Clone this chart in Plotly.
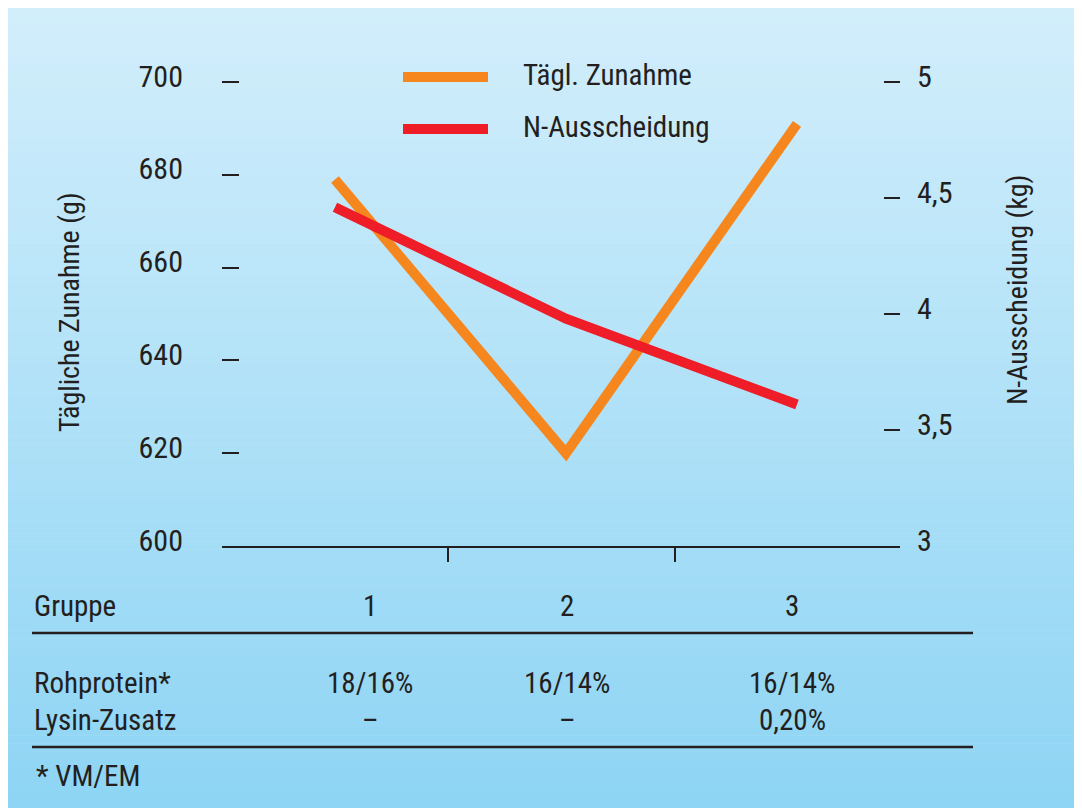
import plotly.graph_objects as go

# ---- data ----
gruppen = [1, 2, 3]
taegl_zunahme = [679, 620, 691]          # g, left axis
n_ausscheidung = [4.46, 3.98, 3.61]      # kg, right axis
left_ticks = [600, 620, 640, 660, 680, 700]
right_ticks = [3, 3.5, 4, 4.5, 5]
right_ticktext = ["3", "3,5", "4", "4,5", "5"]
group_dividers = [1.49, 2.47]
table_groups = ["1", "2", "3"]
rohprotein = ["18/16%", "16/14%", "16/14%"]
lysin = ["–", "–", "0,20%"]

W, H = 1082, 808
OFF = 8  # page body margin
FONT = "Liberation Sans Narrow, Roboto Condensed, DejaVu Sans Condensed, Arial Narrow, sans-serif"
TXT = "#231f20"
ORANGE = "#f6871f"
RED = "#ee1d27"
FS = 29


def px(x):
    return (x - OFF) / W


def py(y):
    return 1 - (y - OFF) / H


# plot area in page pixels
TOP, BOT, LEFT, RIGHT = 82, 546, 222, 900
PAD = 3
l_range = [600, 700]
r_range = [3, 5]
l_top = l_range[1] + PAD * (l_range[1] - l_range[0]) / (BOT - TOP)
r_top = r_range[1] + PAD * (r_range[1] - r_range[0]) / (BOT - TOP)

fig = go.Figure()
fig.add_trace(go.Scatter(x=gruppen, y=taegl_zunahme, mode="lines", name="Tägl. Zunahme",
                         line=dict(color=ORANGE, width=10), yaxis="y", showlegend=False))
fig.add_trace(go.Scatter(x=gruppen, y=n_ausscheidung, mode="lines", name="N-Ausscheidung",
                         line=dict(color=RED, width=10), yaxis="y2", showlegend=False))

shapes = []
# background gradient
top_c = (210, 238, 251)
bot_c = (141, 212, 244)
n = 100
for i in range(n):
    a = OFF + (H) * i / n
    b = OFF + (H) * (i + 1) / n + 0.5
    t = i / (n - 1)
    c = tuple(round(top_c[k] + (bot_c[k] - top_c[k]) * t) for k in range(3))
    shapes.append(dict(type="rect", xref="paper", yref="paper", x0=0, x1=1.0,
                       y0=py(b), y1=py(a), fillcolor="rgb(%d,%d,%d)" % c,
                       line=dict(width=0), layer="below"))

# legend (manual)
leg = [("Tägl. Zunahme", ORANGE, 77), ("N-Ausscheidung", RED, 129)]
annotations = []
for name, col, yy in leg:
    shapes.append(dict(type="line", xref="paper", yref="paper", x0=px(403), x1=px(488),
                       y0=py(yy), y1=py(yy), line=dict(color=col, width=10)))
    annotations.append(dict(text=name, x=px(521), y=py(yy - 2), xref="paper", yref="paper",
                            xanchor="left", yanchor="middle", showarrow=False,
                            font=dict(size=FS, color=TXT, family=FONT)))

# table lines
for yy in [633, 747]:
    shapes.append(dict(type="line", xref="paper", yref="paper", x0=px(32), x1=px(973),
                       y0=py(yy), y1=py(yy), line=dict(color=TXT, width=2.5)))

col_x = [370, 567, 792]


def label(text, x, y, anchor="center"):
    annotations.append(dict(text=text, x=px(x), y=py(y), xref="paper", yref="paper",
                            xanchor=anchor, yanchor="middle", showarrow=False,
                            font=dict(size=FS, color=TXT, family=FONT)))


label("Gruppe", 32, 606, "left")
label("Rohprotein*", 32, 683, "left")
label("Lysin-Zusatz", 32, 720, "left")
label("* VM/EM", 34, 776, "left")
for i in range(3):
    label(table_groups[i], col_x[i], 606)
    label(rohprotein[i], col_x[i], 683)
    label(lysin[i], col_x[i], 720)

# axis titles
annotations.append(dict(text="Tägliche Zunahme (g)", x=px(69), y=py(312), xref="paper", yref="paper",
                        textangle=-90, xanchor="center", yanchor="middle", showarrow=False,
                        font=dict(size=28, color=TXT, family=FONT)))
annotations.append(dict(text="N-Ausscheidung (kg)", x=px(1017), y=py(290), xref="paper", yref="paper",
                        textangle=-90, xanchor="center", yanchor="middle", showarrow=False,
                        font=dict(size=28, color=TXT, family=FONT)))

fig.update_layout(
    width=W, height=H,
    margin=dict(l=0, r=0, t=0, b=0),
    paper_bgcolor="white",
    plot_bgcolor="rgba(0,0,0,0)",
    font=dict(family=FONT, size=FS, color=TXT),
    shapes=shapes,
    annotations=annotations,
    xaxis=dict(domain=[px(LEFT), px(RIGHT)], range=[0.511, 3.446], showgrid=False, zeroline=False,
               showline=True, linecolor=TXT, linewidth=2, ticks="outside", ticklen=14,
               tickwidth=2, tickcolor=TXT, tickvals=group_dividers, showticklabels=False,
               automargin=False),
    yaxis=dict(domain=[py(BOT), py(TOP - PAD)], range=[l_range[0], l_top], showgrid=False,
               zeroline=False, showline=False, ticks="inside", ticklen=17, tickwidth=2,
               tickcolor=TXT, tickvals=left_ticks, ticktext=[str(v) for v in left_ticks],
               ticklabelstandoff=38, ticklabelshift=-6, automargin=False,
               tickfont=dict(size=30, family=FONT, color=TXT)),
    yaxis2=dict(domain=[py(BOT), py(TOP - PAD)], range=[r_range[0], r_top], overlaying="y",
                side="right", anchor="x", showgrid=False, zeroline=False, showline=False,
                ticks="inside", ticklen=16, tickwidth=2, tickcolor=TXT,
                tickvals=right_ticks, ticktext=right_ticktext,
                ticklabelstandoff=16, ticklabelshift=-6, automargin=False,
                tickfont=dict(size=30, family=FONT, color=TXT)),
)

fig.write_html("out.html")
